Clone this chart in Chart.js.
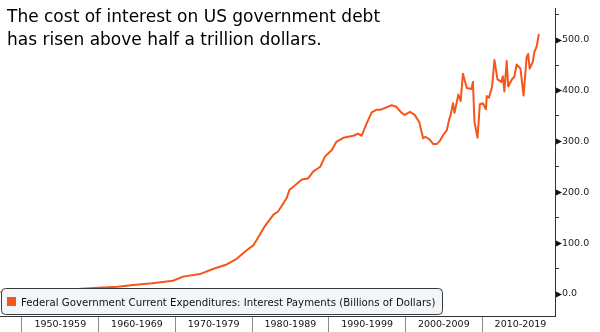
<!DOCTYPE html>
<html>
<head>
<meta charset="utf-8">
<script src="https://cdn.jsdelivr.net/npm/chart.js@4/dist/chart.umd.min.js"></script>
<style>
  html, body { margin: 0; padding: 0; background: #fff; }
  canvas { display: block; }
</style>
</head>
<body>
<canvas id="chart" width="600" height="332"></canvas>
<script>
const titleLines = ['The cost of interest on US government debt', 'has risen above half a trillion dollars.'];
const seriesLabel = 'Federal Government Current Expenditures: Interest Payments (Billions of Dollars)';

const years = [
    1947.2, 1949.0, 1950.6, 1953.0, 1956.7, 1960.0, 1962.5, 1964.5, 1967.0, 1969.7,
    1971.0, 1973.2, 1974.9, 1976.7, 1978.0, 1979.3, 1980.2, 1980.8, 1981.7, 1982.8,
    1983.4, 1984.5, 1984.9, 1985.8, 1986.5, 1987.3, 1988.0, 1988.9, 1989.5, 1990.4,
    1991.0, 1991.9, 1993.2, 1993.8, 1994.3, 1994.9, 1995.6, 1996.2, 1996.7, 1998.2,
    1998.8, 1999.5, 1999.9, 2000.6, 2001.2, 2001.8, 2002.3, 2002.6, 2003.2, 2003.6,
    2004.1, 2004.5, 2004.9, 2005.4, 2005.7, 2005.9, 2006.2, 2006.4, 2006.9, 2007.2,
    2007.5, 2008.0, 2008.6, 2008.8, 2009.0, 2009.4, 2009.7, 2010.1, 2010.5, 2010.6,
    2010.9, 2011.3, 2011.6, 2012.0, 2012.5, 2012.7, 2012.9, 2013.2, 2013.4, 2013.9,
    2014.2, 2014.5, 2015.0, 2015.4, 2015.8, 2016.0, 2016.2, 2016.6, 2016.8, 2017.1,
    2017.4
];
const interestPayments = [
    4, 4.5, 6, 7, 9, 12, 14, 17.5, 21, 26,
    34, 39, 49, 58, 69, 86, 96, 111, 134, 156,
    162, 188, 205, 216, 225, 227, 241, 250, 270, 283,
    299, 307, 311, 315, 311, 334, 357, 362, 362, 371,
    368, 356, 352, 358, 352, 338, 306, 309, 303, 295,
    295, 301, 312, 322, 343, 352, 375, 356, 392, 379,
    433, 405, 403, 417, 338, 307, 373, 375, 363, 389,
    386, 408, 460, 422, 417, 428, 398, 458, 408, 422,
    427, 451, 443, 390, 465, 472, 443, 456, 475, 486,
    511
];
const decadeCenters = [1955, 1965, 1975, 1985, 1995, 2005, 2015];
const yTicks = [0, 50, 100, 150, 200, 250, 300, 350, 400, 450, 500, 550];

const lineColor = '#f4561c';
const font = "'DejaVu Sans', sans-serif";

const overlay = {
    id: 'overlay',
    afterDraw(chart) {
        const ctx = chart.ctx;
        const y = chart.scales.y;
        const area = chart.chartArea;
        ctx.save();

        // tick pointers on the value axis
        ctx.fillStyle = '#111';
        y.ticks.forEach((t) => {
            if (t.value % 100 !== 0) return;
            const py = Math.round(y.getPixelForValue(t.value)) + 0.5;
            ctx.beginPath();
            ctx.moveTo(area.right + 1, py - 3);
            ctx.lineTo(area.right + 1, py + 3);
            ctx.lineTo(area.right + 7, py);
            ctx.closePath();
            ctx.fill();
        });

        // title
        ctx.fillStyle = '#000';
        ctx.font = '17px ' + font;
        ctx.textBaseline = 'alphabetic';
        ctx.fillText(titleLines[0], 7, 22);
        ctx.fillText(titleLines[1], 7, 45);

        // legend box
        const bx = 1.5, by = 288.5, bw = 441, bh = 26;
        ctx.beginPath();
        ctx.roundRect(bx, by, bw, bh, 4);
        ctx.fillStyle = '#f3f6f9';
        ctx.fill();
        ctx.strokeStyle = '#3a3a3a';
        ctx.lineWidth = 1;
        ctx.stroke();
        ctx.fillStyle = lineColor;
        ctx.fillRect(7, 297, 9, 9);
        ctx.fillStyle = '#111';
        ctx.font = '10.2px ' + font;
        ctx.fillText(chart.data.datasets[0].label, 21, 306);
        ctx.restore();
    }
};

new Chart(document.getElementById('chart'), {
    type: 'line',
    data: {
        datasets: [{
            label: seriesLabel,
            data: years.map((yr, i) => ({x: yr, y: interestPayments[i]})),
            borderColor: lineColor,
            borderWidth: 2,
            pointRadius: 0,
            tension: 0,
            borderJoinStyle: 'round'
        }]
    },
    options: {
        responsive: false,
        animation: false,
        layout: {padding: 0},
        plugins: {legend: {display: false}, tooltip: {enabled: false}},
        scales: {
            x: {
                type: 'linear',
                position: 'bottom',
                min: 1947.14,
                max: 2019.5,
                afterBuildTicks: (s) => { s.ticks = decadeCenters.map((v) => ({value: v})); },
                afterFit: (s) => { s.height = 16; },
                grid: {offset: true, drawOnChartArea: false, tickLength: 16, color: '#8a8a8a'},
                border: {color: '#333'},
                ticks: {
                    padding: -13,
                    maxRotation: 0,
                    autoSkip: false,
                    color: '#111',
                    font: {family: font, size: 9.5},
                    callback: (v) => (v - 5) + '-' + (v + 4)
                }
            },
            y: {
                position: 'right',
                min: -43.4,
                max: 560.8,
                afterBuildTicks: (s) => { s.ticks = yTicks.map((v) => ({value: v})); },
                afterFit: (s) => { s.width = 45; },
                grid: {
                    drawOnChartArea: false,
                    tickLength: 4,
                    tickColor: (c) => (c.tick && c.tick.value % 100 === 0) ? 'transparent' : '#333'
                },
                border: {color: '#333'},
                ticks: {
                    padding: 3,
                    color: '#222',
                    font: {family: font, size: 9.5},
                    callback: (v) => v % 100 === 0 ? v.toFixed(1) : ''
                }
            }
        }
    },
    plugins: [overlay]
});
</script>
</body>
</html>
